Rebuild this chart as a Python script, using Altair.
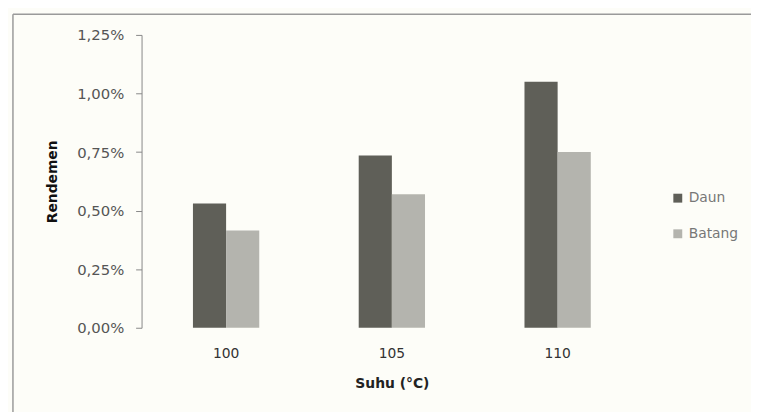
import altair as alt
import pandas as pd

suhu = ["100", "105", "110"]
daun = [0.53, 0.735, 1.05]
batang = [0.415, 0.57, 0.75]
series = ["Daun", "Batang"]
y_ticks = [0, 0.25, 0.5, 0.75, 1.0, 1.25]

rows = []
for i, s in enumerate(suhu):
    rows.append({"Suhu": s, "Bagian": "Daun", "Rendemen": daun[i]})
    rows.append({"Suhu": s, "Bagian": "Batang", "Rendemen": batang[i]})
df = pd.DataFrame(rows)

FONT = "DejaVu Sans"

bars = alt.Chart(df).mark_bar().encode(
    x=alt.X("Suhu:N", sort=suhu,
            scale=alt.Scale(paddingInner=0.6, paddingOuter=0.31),
            axis=alt.Axis(title="Suhu (°C)", labelAngle=0, domain=False, ticks=False,
                          labelPadding=19, labelFontSize=14, labelColor="#333",
                          titleFontSize=14, titleFontWeight="bold", titleColor="#222",
                          titlePadding=16, labelFont=FONT, titleFont=FONT)),
    xOffset=alt.XOffset("Bagian:N", sort=series, scale=alt.Scale(paddingInner=0, paddingOuter=0)),
    y=alt.Y("Rendemen:Q", scale=alt.Scale(domain=[0, 1.25], nice=False),
            axis=alt.Axis(title="Rendemen", values=y_ticks, grid=False,
                          labelExpr="replace(format(datum.value, '.2f'), '.', ',') + '%'",
                          domainColor="#888", tickColor="#888", tickSize=6,
                          labelPadding=12, labelFontSize=15, labelColor="#555",
                          titleFontSize=14, titleFontWeight="bold", titleColor="#111",
                          titlePadding=17, labelFont=FONT, titleFont=FONT)),
    color=alt.Color("Bagian:N", sort=series,
                    scale=alt.Scale(domain=series, range=["#5f5f58", "#b4b4ae"]),
                    legend=alt.Legend(title=None, orient="none", legendX=535, legendY=158,
                                      symbolType="square", symbolSize=81, rowPadding=22,
                                      labelFontSize=14, labelColor="#777", labelFont=FONT,
                                      symbolStrokeWidth=0)),
)

frame_df = pd.DataFrame({"k": [0]})
frame_top = alt.Chart(frame_df).mark_rule(color="#9a9a9a", strokeWidth=1.5).encode(
    x=alt.value(-130), x2=alt.value(620), y=alt.value(-21))
frame_left = alt.Chart(frame_df).mark_rule(color="#9a9a9a", strokeWidth=1.5).encode(
    x=alt.value(-130), y=alt.value(-21), y2=alt.value(420))

chart = alt.layer(frame_top, frame_left, bars).properties(
    width=506, height=296,
    autosize=alt.AutoSizeParams(type="none"),
    padding={"left": 135, "top": 25, "right": 110, "bottom": 90},
    background="#fdfdf8",
).configure_view(stroke=None)

chart.save("out.html", embed_options={"renderer": "svg", "actions": False})
